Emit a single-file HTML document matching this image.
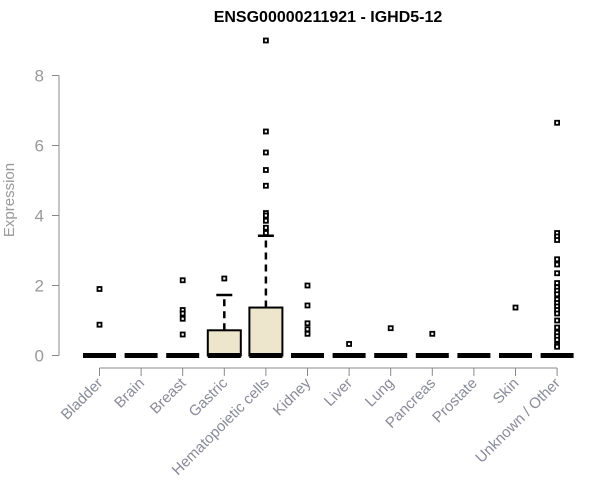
<!DOCTYPE html>
<html><head><meta charset="utf-8"><style>body{margin:0;background:#fff}svg{display:block;font-family:"Liberation Sans",Arial,sans-serif}</style></head>
<body>
<svg id="chart" width="600" height="500" viewBox="0 0 600 500">
<text x="328" y="22" text-anchor="middle" font-size="16" font-weight="bold">ENSG00000211921 - IGHD5-12</text>
<text transform="translate(14,200) rotate(-90)" text-anchor="middle" font-size="15" fill="#999">Expression</text>
<g id="yaxis"></g>
<g id="xaxis"></g>
<g id="plot"></g>
</svg>
<script>
const categories=["Bladder","Brain","Breast","Gastric","Hematopoietic cells","Kidney","Liver","Lung","Pancreas","Prostate","Skin","Unknown / Other"];
const q3Values=[0,0,0,0.72,1.37,0,0,0,0,0,0,0];
const whiskerHigh=[0,0,0,1.73,3.42,0,0,0,0,0,0,0];
const outliers=[[1.9,0.88],[],[2.15,1.3,1.2,1.05,0.6],[2.2],[9,6.4,5.8,5.3,4.85,4.07,4.0,3.85,3.65,3.5],[2.0,1.43,0.92,0.75,0.62],[0.33],[0.78],[0.62],[],[1.37],[6.65,3.5,3.4,3.3,2.75,2.6,2.35,2.07,1.95,1.85,1.75,1.6,1.5,1.4,1.3,1.2,1.0,0.8,0.65,0.55,0.45,0.3,0.25]];
const yTicks=[0,2,4,6,8];
const NS="http://www.w3.org/2000/svg";
const y=v=>355.5-v*35;
const x=i=>99.5+i*41.6;
function mk(t,a,p){const e=document.createElementNS(NS,t);for(const k in a)e.setAttribute(k,a[k]);p.appendChild(e);return e;}
const ya=document.getElementById('yaxis'),xa=document.getElementById('xaxis'),pl=document.getElementById('plot');
let l=mk('line',{x1:59,x2:59,y1:y(8),y2:y(0),stroke:'#888'},ya);


yTicks.forEach(v=>{
 let t=mk('line',{x1:52,x2:59,y1:y(v),y2:y(v),stroke:'#888'},ya);
 
 
 let tx=mk('text',{x:44,y:y(v)+6,'text-anchor':'end','font-size':17,fill:'#999'},ya);
 tx.textContent=v;
 
 
});
let xl=mk('line',{x1:x(0),x2:x(11),y1:368,y2:368,stroke:'#888'},xa);


categories.forEach((c,i)=>{
 let t=mk('line',{x1:x(i),x2:x(i),y1:368,y2:376,stroke:'#888'},xa);
 
 
 let tx=mk('text',{transform:`translate(${x(i)+4},384) rotate(-45)`,'text-anchor':'end','font-size':15,fill:'#8a8a99'},xa);
 tx.textContent=c;
 
 
 const cx=x(i),g=mk('g',{},pl);
 
 
 if(whiskerHigh[i]>q3Values[i]){
  mk('line',{x1:cx,x2:cx,y1:y(q3Values[i]),y2:y(whiskerHigh[i]),stroke:'#000','stroke-width':2.5,'stroke-dasharray':'7,5'},g);
  mk('line',{x1:cx-8,x2:cx+8,y1:y(whiskerHigh[i]),y2:y(whiskerHigh[i]),stroke:'#000','stroke-width':2.5},g);
 }
 if(q3Values[i]>0) mk('rect',{x:cx-16.5,y:y(q3Values[i]),width:33,height:y(0)-y(q3Values[i]),fill:'#ede6cd',stroke:'#000','stroke-width':2},g);
 mk('line',{x1:cx-16.5,x2:cx+16.5,y1:y(0),y2:y(0),stroke:'#000','stroke-width':5},g);
 outliers[i].forEach(v=>{
  let p=mk('rect',{x:cx-2,y:y(v)-2,width:4,height:4,fill:'#fff',stroke:'#000','stroke-width':1.8},g);
  
  
 });
});
</script>
</body></html>
